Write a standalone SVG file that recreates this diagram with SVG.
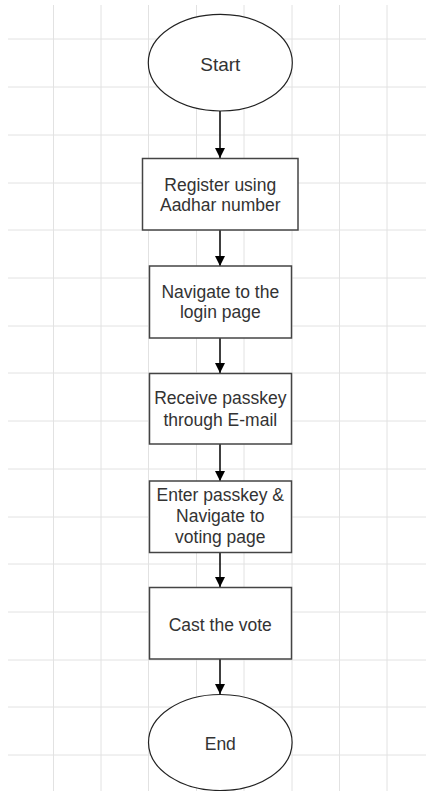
<svg xmlns="http://www.w3.org/2000/svg" width="426" height="791" viewBox="0 0 426 791">
<style>
.grid line{stroke:#e2e2e2;stroke-width:1}
.box{fill:#ffffff;stroke:#444444;stroke-width:1.5}
.term{fill:#ffffff;stroke:#222222;stroke-width:1.2}
.lbl{font-family:"Liberation Sans",Arial,sans-serif;font-size:17.5px;fill:#333333;text-anchor:middle}
.conn{stroke:#000000;stroke-width:1.5;fill:none}
</style>
<defs>
<marker id="arr" viewBox="0 0 10 10" refX="10" refY="5" markerWidth="10" markerHeight="10" markerUnits="userSpaceOnUse" orient="auto">
<path d="M0,0 L10,5 L0,10 Z" fill="#000000"/>
</marker>
</defs>
<rect x="0" y="0" width="426" height="791" fill="#ffffff"/>
<g class="grid">
<line x1="8" y1="39" x2="426" y2="39"/>
<line x1="8" y1="87" x2="426" y2="87"/>
<line x1="8" y1="135" x2="426" y2="135"/>
<line x1="8" y1="183" x2="426" y2="183"/>
<line x1="8" y1="230" x2="426" y2="230"/>
<line x1="8" y1="278" x2="426" y2="278"/>
<line x1="8" y1="326" x2="426" y2="326"/>
<line x1="8" y1="373" x2="426" y2="373"/>
<line x1="8" y1="421" x2="426" y2="421"/>
<line x1="8" y1="469" x2="426" y2="469"/>
<line x1="8" y1="517" x2="426" y2="517"/>
<line x1="8" y1="564" x2="426" y2="564"/>
<line x1="8" y1="612" x2="426" y2="612"/>
<line x1="8" y1="660" x2="426" y2="660"/>
<line x1="8" y1="707" x2="426" y2="707"/>
<line x1="8" y1="755" x2="426" y2="755"/>
<line x1="53.5" y1="5" x2="53.5" y2="791"/>
<line x1="101" y1="5" x2="101" y2="791"/>
<line x1="148.5" y1="5" x2="148.5" y2="791"/>
<line x1="196.5" y1="5" x2="196.5" y2="791"/>
<line x1="244" y1="5" x2="244" y2="791"/>
<line x1="292" y1="5" x2="292" y2="791"/>
<line x1="339.5" y1="5" x2="339.5" y2="791"/>
<line x1="387" y1="5" x2="387" y2="791"/>
</g>
<g id="connectors">
<line class="conn" x1="220" y1="111" x2="220" y2="158" marker-end="url(#arr)"/>
<line class="conn" x1="220" y1="230" x2="220" y2="266" marker-end="url(#arr)"/>
<line class="conn" x1="220" y1="338" x2="220" y2="373" marker-end="url(#arr)"/>
<line class="conn" x1="220" y1="444" x2="220" y2="481" marker-end="url(#arr)"/>
<line class="conn" x1="220" y1="553" x2="220" y2="587" marker-end="url(#arr)"/>
<line class="conn" x1="220" y1="659" x2="220" y2="694" marker-end="url(#arr)"/>
</g>
<g id="start">
<ellipse class="term" cx="220.3" cy="62.7" rx="72" ry="48.3"/>
<text class="lbl" x="220.3" y="70.5" style="font-size:19px">Start</text>
</g>
<g id="register">
<rect class="box" x="142.5" y="158.5" width="155.5" height="71.5"/>
<text class="lbl" x="220.3" y="190.7">Register using</text>
<text class="lbl" x="220.3" y="211.3">Aadhar number</text>
</g>
<g id="navigate">
<rect class="box" x="149.5" y="266" width="142" height="72"/>
<text class="lbl" x="220.3" y="297.7">Navigate to the</text>
<text class="lbl" x="220.3" y="318">login page</text>
</g>
<g id="receive">
<rect class="box" x="149.5" y="373.5" width="142" height="70.5"/>
<text class="lbl" x="220.3" y="404.3">Receive passkey</text>
<text class="lbl" x="220.3" y="426">through E-mail</text>
</g>
<g id="enter">
<rect class="box" x="149.5" y="481" width="142" height="71.5"/>
<text class="lbl" x="220.3" y="500.5">Enter passkey &amp;</text>
<text class="lbl" x="220.3" y="522">Navigate to</text>
<text class="lbl" x="220.3" y="543.3">voting page</text>
</g>
<g id="cast">
<rect class="box" x="149.5" y="587.5" width="142" height="71.5"/>
<text class="lbl" x="220.3" y="630.7">Cast the vote</text>
</g>
<g id="end">
<ellipse class="term" cx="220.3" cy="742.5" rx="71.8" ry="48"/>
<text class="lbl" x="220.3" y="750">End</text>
</g>
</svg>
